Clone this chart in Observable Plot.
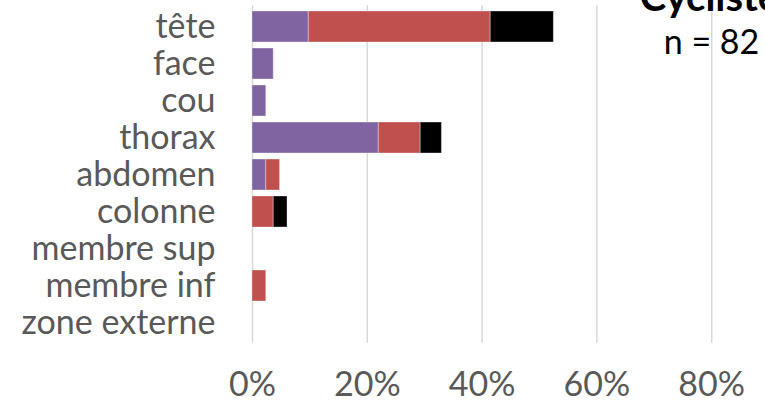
<!DOCTYPE html>
<html>
<head>
<meta charset="utf-8">
<script src="https://cdn.jsdelivr.net/npm/d3@7"></script>
<script src="https://cdn.jsdelivr.net/npm/@observablehq/plot@0.6"></script>
<style>
  html, body { margin: 0; padding: 0; background: #fff; overflow: hidden; }
  #chart { width: 765px; height: 406px; overflow: hidden; }
</style>
</head>
<body>
<div id="chart"></div>
<script>
// Body regions (categories), top to bottom
const parts = ["tête", "face", "cou", "thorax", "abdomen", "colonne", "membre sup", "membre inf", "zone externe"];
// Three stacked series (percent of n = 82)
const seriesNames = ["violet", "rouge", "noir"];
const seriesColors = ["#8064A2", "#C0504D", "#000000"];
const violetValues = [9.8, 3.7, 2.4, 22.0, 2.4, 0, 0, 0, 0];
const rougeValues  = [31.7, 0, 0, 7.3, 2.4, 3.7, 0, 2.4, 0];
const noirValues   = [11.0, 0, 0, 3.7, 0, 2.4, 0, 0, 0];
const xTicks = [0, 20, 40, 60, 80, 100];
const titleText = "Cycliste";
const subtitleText = "n = 82";

const seriesValues = [violetValues, rougeValues, noirValues];
const data = [];
seriesNames.forEach((s, si) => {
  parts.forEach((p, pi) => {
    data.push({part: p, series: s, value: seriesValues[si][pi] / 100});
  });
});

const font = "Lato, 'Open Sans', sans-serif";

const chart = Plot.plot({
  width: 765,
  height: 406,
  marginLeft: 252,
  marginRight: -61,
  marginTop: 5,
  marginBottom: 63,
  style: {fontFamily: font, background: "white", overflow: "hidden"},
  x: {domain: [0, 1], ticks: xTicks.map(d => d / 100), tickFormat: d3.format(".0%")},
  y: {domain: parts, paddingInner: 0.175, paddingOuter: 0.058},
  color: {domain: seriesNames, range: seriesColors},
  marks: [
    Plot.ruleX(xTicks.map(d => d / 100), {stroke: "#d9d9d9", strokeWidth: 1.5}),
    Plot.barX(data, Plot.stackX({
      x: "value", y: "part", fill: "series", order: seriesNames,
      stroke: "white", strokeOpacity: 0.35, strokeWidth: 1
    })),
    Plot.axisY({tickSize: 0, tickPadding: 37, fontSize: 34, fill: "#595959", label: null}),
    Plot.axisX({ticks: xTicks.slice(0, 5).map(d => d / 100), tickFormat: d3.format(".0%"),
      tickSize: 0, tickPadding: 28, fontSize: 34, fill: "#595959", label: null}),
    Plot.text([subtitleText], {frameAnchor: "top-right", dx: -115, dy: 48,
      lineAnchor: "bottom", textAnchor: "middle", fontSize: 34, fill: "#000"}),
    Plot.text([titleText], {frameAnchor: "top-right", dx: -117, dy: 5,
      lineAnchor: "bottom", textAnchor: "middle", fontSize: 40, fontWeight: "bold", fill: "#000"})
  ]
});
document.getElementById("chart").appendChild(chart);
</script>
</body>
</html>
